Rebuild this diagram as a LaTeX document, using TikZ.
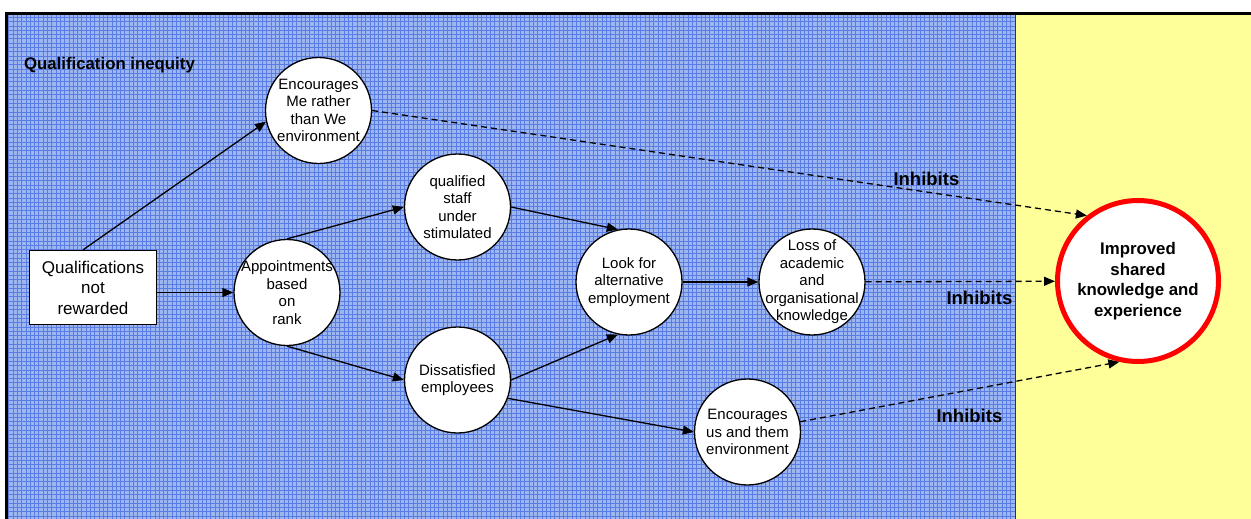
\documentclass[tikz,border=0pt]{standalone}
\usepackage{fontspec}
\setmainfont{Liberation Sans}
\usetikzlibrary{arrows.meta}
\definecolor{meshblue}{RGB}{158,182,240}
\definecolor{meshline}{RGB}{88,124,226}
\definecolor{paleyellow}{RGB}{255,255,153}
\definecolor{ringred}{RGB}{255,0,0}

\begin{document}
\begin{tikzpicture}[x=1pt,y=-1pt,
	>={Triangle[length=11pt,width=9pt]},
	state/.style={circle, draw, fill=white, line width=1.3pt, minimum size=106pt, inner sep=-12pt, align=center, font=\fontsize{15}{17.5}\selectfont},
	link/.style={->, line width=1.3pt},
	inhibit/.style={->, dash pattern=on 6pt off 4pt, line width=1.3pt},
	tag/.style={anchor=base west, font=\bfseries\fontsize{18.5}{20}\selectfont}]
	\useasboundingbox (0,0) rectangle (1251,519);
	\fill[meshblue] (6,13) rectangle (1015,519);
	\draw[meshline, line width=0.45pt, step=4.3pt] (6,519) grid (1015,13);
	\fill[paleyellow] (1015,13) rectangle (1251,519);
	\draw[line width=1pt, black!80] (1015,13) -- (1015,519);
	\draw[line width=2.5pt] (6.5,519) -- (6.5,13.5) -- (1251,13.5);

	\node[tag, font=\bfseries\fontsize{16.8}{20}\selectfont] (title) at (20.5,70) {Qualification inequity};
	\node[draw, fill=white, line width=1.3pt, minimum width=127pt, minimum height=74pt, align=center, font=\fontsize{17}{20.5}\selectfont] (qual) at (93,287.5) {Qualifications\\not\\rewarded};
	\node[state] (encme) at (318.5,110.5) {Encourages\\Me rather\\than We\\environment};
	\node[state] (appt) at (287,292.5) {Appointments\\based\\on\\rank};
	\node[state] (staff) at (457.5,207) {qualified\\staff\\under\\stimulated};
	\node[state] (diss) at (457.5,380) {Dissatisfied\\employees};
	\node[state] (look) at (629,282) {Look for\\alternative\\employment};
	\node[state] (loss) at (812,282) {Loss of\\academic\\and\\organisational\\knowledge};
	\node[state] (encus) at (747.5,432) {Encourages\\us and them\\environment};
	\node[state, draw=ringred, line width=5pt, minimum size=161pt, font=\bfseries\fontsize{16.8}{20.5}\selectfont] (shared) at (1138,281) {Improved\\shared\\knowledge and\\experience};

	\draw[link] ([xshift=-10pt]qual.north) -- (encme.192);
	\draw[link] (qual.east |- appt.west) -- (appt.west);
	\draw[link] (appt.north) -- (staff.west);
	\draw[link] (appt.south) -- (diss.west);
	\draw[link] (staff.east) -- (look.102);
	\draw[link] (diss.east) -- (look.258);
	\draw[link] (look) -- (loss);
	\draw[link] (diss.340) -- (encus.west);
	\draw[inhibit] (encme.east) -- (shared.128);
	\draw[inhibit] (loss) -- (shared);
	\draw[inhibit] (encus.11) -- (shared.257);

	\node[tag] (inh1) at (890,185) {Inhibits};
	\node[tag] (inh2) at (943,304) {Inhibits};
	\node[tag] (inh3) at (933,422) {Inhibits};
\end{tikzpicture}
\end{document}
